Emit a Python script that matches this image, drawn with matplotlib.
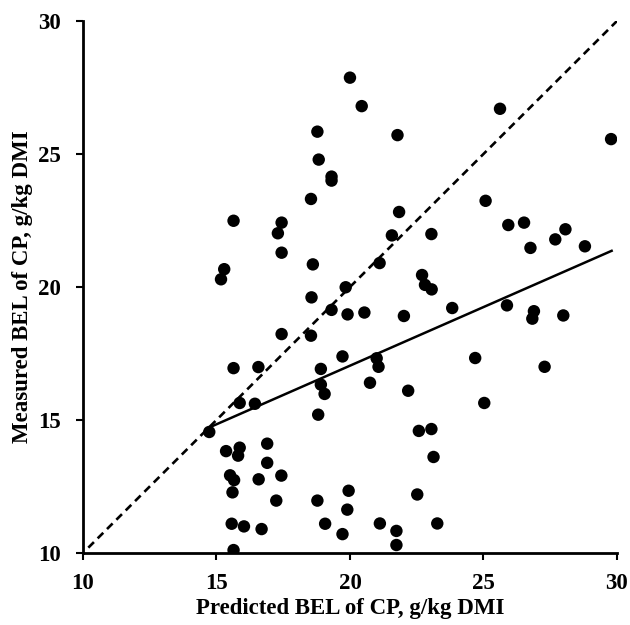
import numpy as np
import matplotlib.pyplot as plt

# measured vs predicted BEL of CP (g/kg DMI)
predicted = [20.0, 20.44, 18.78, 18.83, 19.31, 19.31, 18.54, 15.64, 17.44, 17.30,
             17.44, 18.61, 15.29, 15.17, 19.84, 21.78, 25.62, 29.78, 25.08, 21.84,
             21.57, 23.05, 21.11, 25.93, 26.52, 26.76, 27.69, 28.07, 28.80, 22.70,
             22.81, 23.06, 18.56, 19.31, 19.91, 20.54, 17.44, 18.54, 19.72, 15.64,
             16.57, 18.91, 18.91, 19.05, 18.81, 15.87, 16.44, 14.73, 15.36, 15.87,
             15.81, 16.90, 16.90, 15.51, 15.66, 16.58, 17.43, 15.60, 17.24, 18.78,
             19.95, 19.90, 15.57, 16.03, 16.69, 19.07, 19.72, 15.64, 22.02, 23.83,
             25.88, 26.89, 26.83, 27.99, 21.00, 21.07, 20.75, 22.18, 24.69, 27.29,
             25.03, 22.58, 23.05, 23.13, 22.52, 21.12, 23.27, 21.74, 21.74]
measured = [27.87, 26.80, 25.84, 24.79, 24.15, 24.00, 23.31, 22.49, 22.42, 22.02,
            21.29, 20.85, 20.67, 20.29, 19.99, 25.71, 26.70, 25.56, 23.24, 22.82,
            21.94, 21.99, 20.90, 22.33, 22.42, 21.47, 21.79, 22.17, 21.53, 20.45,
            20.08, 19.91, 19.61, 19.14, 18.97, 19.04, 18.23, 18.17, 17.39, 16.95,
            16.99, 16.92, 16.33, 15.98, 15.20, 15.64, 15.61, 14.55, 13.83, 13.96,
            13.66, 14.11, 13.39, 12.92, 12.74, 12.77, 12.91, 12.28, 11.97, 11.97,
            12.34, 11.63, 11.10, 11.00, 10.90, 11.10, 10.71, 10.11, 18.91, 19.21,
            19.31, 19.09, 18.81, 18.93, 17.32, 17.00, 16.40, 16.10, 17.33, 17.00,
            15.64, 14.59, 14.66, 13.61, 12.20, 11.11, 11.11, 10.83, 10.30]

# fitted regression line and 1:1 line
fit_x = [14.8, 29.8]
fit_y = [14.75, 21.36]
unity = [10.2, 30.0]

ticks = [10, 15, 20, 25, 30]

plt.rcParams['font.family'] = ['Liberation Serif', 'DejaVu Serif']
plt.rcParams['font.weight'] = 'bold'

fig = plt.figure(figsize=(6.3, 6.25), dpi=100)
ax = fig.add_axes([0.1317, 0.1152, 0.8476, 0.8512])

ax.plot(unity, unity, color='black', linestyle=(0, (3.0, 2.0)), linewidth=1.9, zorder=2)
ax.plot(fit_x, fit_y, color='black', linewidth=1.8, zorder=2)
ax.scatter(predicted, measured, s=80, color='black', edgecolors='none', zorder=3)

ax.set_xlim(10, 30)
ax.set_ylim(10, 30)
ax.set_xticks(ticks)
ax.set_yticks(ticks)
ax.tick_params(direction='out', length=5, width=1.5, labelsize=16.5)
ax.tick_params(axis='x', pad=9.5)
ax.tick_params(axis='y', pad=11)
for lab in ax.get_xticklabels() + ax.get_yticklabels():
    lab.set_fontweight('bold')

for side in ['top', 'right']:
    ax.spines[side].set_visible(False)
for side in ['left', 'bottom']:
    ax.spines[side].set_linewidth(2)

ax.set_xlabel('Predicted BEL of CP, g/kg DMI', fontsize=16.5, fontweight='bold', labelpad=3)
ax.set_ylabel('Measured BEL of CP, g/kg DMI', fontsize=16.5, fontweight='bold', labelpad=3.5)

fig.savefig('out.png', dpi=100)
